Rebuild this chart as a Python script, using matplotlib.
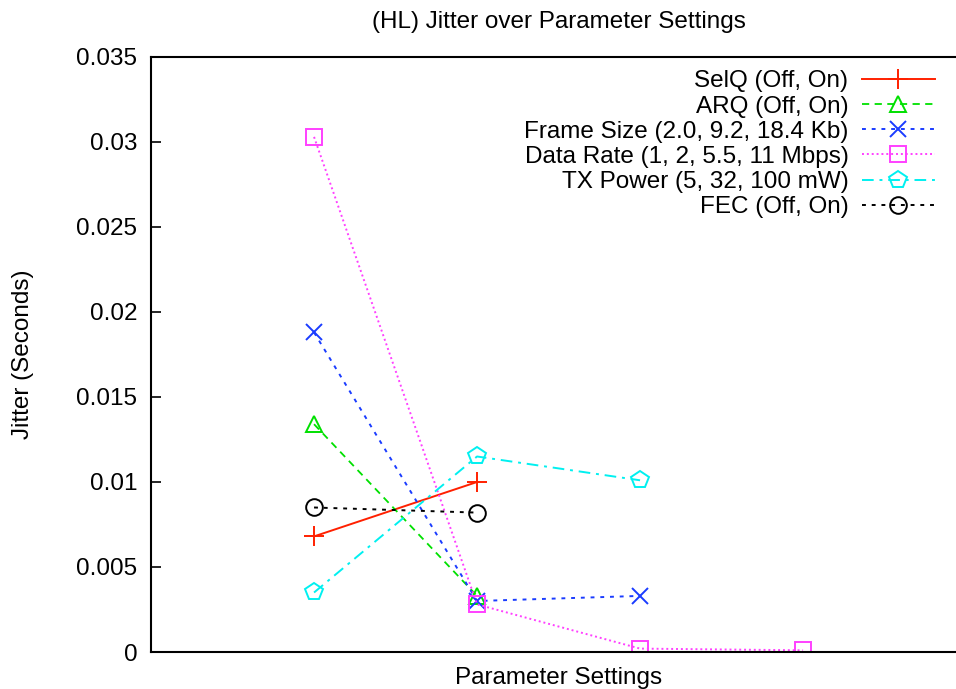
import matplotlib.pyplot as plt

plt.rcParams['font.family'] = ['Liberation Sans', 'DejaVu Sans']

# series values (x = position of each parameter setting)
selq_x = [1, 2]
selq_y = [0.0068, 0.0100]
arq_x = [1, 2]
arq_y = [0.0134, 0.0033]
frame_x = [1, 2, 3]
frame_y = [0.0188, 0.0030, 0.0033]
rate_x = [1, 2, 3, 4]
rate_y = [0.0303, 0.0028, 0.0002, 0.0001]
txp_x = [1, 2, 3]
txp_y = [0.0035, 0.0115, 0.0101]
fec_x = [1, 2]
fec_y = [0.0085, 0.0082]

labels = ['SelQ (Off, On)', 'ARQ (Off, On)', 'Frame Size (2.0, 9.2, 18.4 Kb)',
          'Data Rate (1, 2, 5.5, 11 Mbps)', 'TX Power (5, 32, 100 mW)', 'FEC (Off, On)']
yticks = [0, 0.005, 0.01, 0.015, 0.02, 0.025, 0.03, 0.035]
ytick_labels = ['0', '0.005', '0.01', '0.015', '0.02', '0.025', '0.03', '0.035']

fs = 17.5
fig = plt.figure(figsize=(9.56, 6.89), dpi=100)
ax = fig.add_axes([0.158, 0.0537, 0.8525, 0.8636])

ms = 12
ax.plot(selq_x, selq_y, color='#ff2000', ls='-', marker='+', ms=ms + 2, mew=1.4, lw=1.4, label=labels[0])
ax.plot(arq_x, arq_y, color='#00e000', ls=(0, (4, 3)), marker='^', ms=ms, mfc='none', mew=1.4, lw=1.3, label=labels[1])
ax.plot(frame_x, frame_y, color='#1a3cff', ls=(0, (2, 3)), marker='x', ms=ms, mew=1.4, lw=1.4, label=labels[2])
ax.plot(rate_x, rate_y, color='#ff40ff', ls=(0, (1, 1.5)), marker='s', ms=ms, mfc='none', mew=1.4, lw=1.4, label=labels[3])
ax.plot(txp_x, txp_y, color='#00f0f0', ls=(0, (6, 3, 1.5, 3)), marker='p', ms=ms + 1, mfc='none', mew=1.4, lw=1.4, label=labels[4])
ax.plot(fec_x, fec_y, color='black', ls=(0, (2, 3)), marker='o', ms=ms, mfc='none', mew=1.4, lw=1.4, label=labels[5])

ax.set_xlim(0, 5)
ax.set_ylim(0, 0.035)
ax.set_xticks([])
ax.set_yticks(yticks)
ax.set_yticklabels(ytick_labels)
ax.tick_params(axis='y', direction='in', length=7, width=1.2, left=True, right=True, labelsize=fs, pad=10)
for s in ax.spines.values():
    s.set_linewidth(1.5)

ax.set_title('(HL) Jitter over Parameter Settings', fontsize=fs, pad=21)
ax.set_xlabel('Parameter Settings', fontsize=fs, labelpad=11)
ax.set_ylabel('Jitter (Seconds)', fontsize=fs, labelpad=30)

leg = ax.legend(loc='upper right', bbox_to_anchor=(0.978, 1.0), frameon=False, markerfirst=False,
                fontsize=fs, handlelength=3.0, handletextpad=0.55, labelspacing=0.13, borderaxespad=0.15)

fig.savefig('out.png', dpi=100)
